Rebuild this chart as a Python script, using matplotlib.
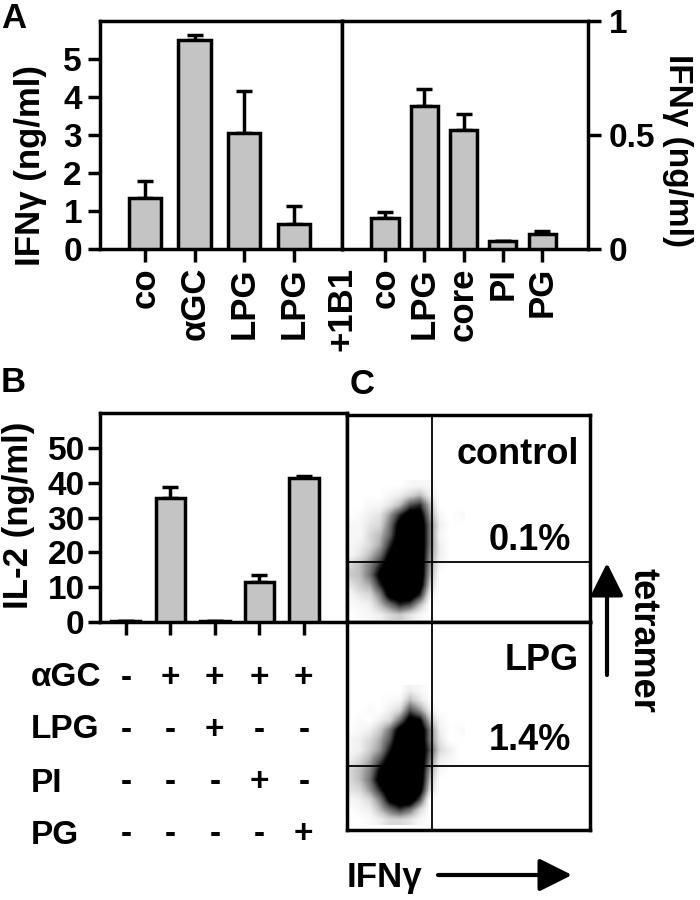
import matplotlib
matplotlib.use('Agg')
import matplotlib.pyplot as plt
import numpy as np
from matplotlib.transforms import blended_transform_factory

plt.rcParams['font.family'] = ['Liberation Sans', 'DejaVu Sans']
plt.rcParams['font.weight'] = 'bold'
plt.rcParams['axes.linewidth'] = 2.5

# ---------------- data ----------------
a_left_labels = ['co', 'αGC', 'LPG', 'LPG']
a_left_vals = [1.35, 5.5, 3.05, 0.65]
a_left_err = [0.43, 0.14, 1.12, 0.47]

a_right_labels = ['co', 'LPG', 'core', 'PI', 'PG']
a_right_vals = [0.137, 0.625, 0.524, 0.035, 0.066]
a_right_err = [0.027, 0.076, 0.07, 0.0, 0.013]

b_vals = [0.3, 35.6, 0.3, 11.5, 41.2]
b_err = [0.0, 3.2, 0.0, 2.0, 0.8]
b_rows = ['αGC', 'LPG', 'PI', 'PG']
b_signs = [['-', '+', '+', '+', '+'],
           ['-', '-', '+', '-', '-'],
           ['-', '-', '-', '+', '-'],
           ['-', '-', '-', '-', '+']]

c_titles = ['control', 'LPG']
c_percent = ['0.1%', '1.4%']

c_density_top = [
    [0, 0, 0, 0, 0, 0, 0.05, 0.05, 0.05, 0, 0, 0],
    [0, 0, 0, 0, 0.05, 0.1, 0.2, 0.3, 0.1, 0, 0, 0],
    [0, 0, 0.05, 0.05, 0.15, 0.3, 0.6, 0.7, 0.3, 0, 0, 0],
    [0, 0.03, 0.1, 0.15, 0.4, 0.7, 0.95, 0.9, 0.4, 0.05, 0, 0.03],
    [0.05, 0.05, 0.15, 0.2, 0.5, 0.9, 1, 1, 0.5, 0.1, 0, 0],
    [0.05, 0.05, 0.2, 0.3, 0.55, 0.95, 1, 1, 0.5, 0.05, 0, 0],
    [0.05, 0.1, 0.2, 0.35, 0.7, 1, 1, 1, 0.5, 0.1, 0, 0],
    [0.05, 0.15, 0.3, 0.5, 0.85, 1, 1, 1, 0.45, 0.1, 0, 0],
    [0.2, 0.3, 0.45, 0.7, 0.95, 1, 1, 1, 0.4, 0.05, 0, 0],
    [0.25, 0.3, 0.5, 0.85, 1, 1, 1, 1, 0.35, 0, 0, 0],
    [0.15, 0.25, 0.35, 0.7, 1, 1, 1, 0.95, 0.25, 0, 0, 0],
    [0.05, 0.15, 0.2, 0.45, 0.9, 1, 1, 0.7, 0.1, 0, 0, 0],
    [0.03, 0.05, 0.1, 0.3, 0.5, 0.7, 0.6, 0.3, 0, 0, 0, 0],
    [0, 0.03, 0.05, 0.1, 0.2, 0.25, 0.15, 0.05, 0, 0, 0, 0],
]
c_density_bottom = [
    [0, 0, 0, 0, 0, 0, 0.1, 0.05, 0, 0, 0, 0],
    [0, 0, 0, 0, 0.03, 0.05, 0.3, 0.15, 0, 0, 0, 0],
    [0, 0, 0.03, 0, 0.1, 0.2, 0.6, 0.4, 0.1, 0, 0, 0],
    [0, 0.03, 0, 0.1, 0.2, 0.5, 0.9, 0.8, 0.3, 0.05, 0, 0],
    [0, 0.05, 0.1, 0.25, 0.5, 0.9, 1, 1, 0.5, 0.1, 0, 0.03],
    [0.05, 0.1, 0.2, 0.35, 0.6, 1, 1, 1, 0.5, 0.15, 0, 0],
    [0.05, 0.1, 0.25, 0.4, 0.75, 1, 1, 1, 0.6, 0.2, 0.1, 0],
    [0.1, 0.2, 0.35, 0.6, 0.9, 1, 1, 1, 0.5, 0.1, 0.05, 0],
    [0.2, 0.3, 0.45, 0.8, 1, 1, 1, 1, 0.4, 0.05, 0, 0],
    [0.2, 0.3, 0.5, 0.9, 1, 1, 1, 1, 0.3, 0, 0, 0],
    [0.15, 0.2, 0.4, 0.7, 1, 1, 1, 0.9, 0.2, 0, 0, 0],
    [0.05, 0.1, 0.2, 0.45, 0.85, 1, 1, 0.6, 0, 0, 0, 0],
    [0, 0.05, 0.1, 0.3, 0.5, 0.65, 0.5, 0.2, 0, 0, 0, 0],
    [0, 0, 0.03, 0.1, 0.2, 0.2, 0.15, 0.05, 0, 0, 0, 0],
]

# ---------------- layout helpers ----------------
W, H = 700, 900
fig = plt.figure(figsize=(7, 9), dpi=100)


def ax_at(x0, y0, x1, y1):
    return fig.add_axes([x0 / W, 1 - y1 / H, (x1 - x0) / W, (y1 - y0) / H])


BAR = '#c4c4c4'
TICK_FS = 24
XLAB_FS = 25
LAB_FS = 25
TAB_FS = 24
C_FS = 26


def style_ticks(ax):
    ax.tick_params(direction='out', length=9, width=2.5, labelsize=TICK_FS, pad=4)


def bars(ax, xs, vals, errs, width):
    ax.bar(xs, vals, width=width, color=BAR, edgecolor='black', linewidth=2.5, zorder=3)
    ax.errorbar(xs, vals, yerr=[np.zeros(len(vals)), errs], fmt='none', ecolor='black',
                elinewidth=2.5, capsize=6, capthick=2.5, zorder=2)


# ---------------- Panel A ----------------
axL = ax_at(100, 21, 342, 249)
xl = np.arange(1, len(a_left_vals) + 1)
bars(axL, xl, a_left_vals, a_left_err, 0.65)
axL.set_xlim(0.095, 4.966)
axL.set_ylim(0, 6)
axL.set_yticks(range(0, 6))
axL.set_xticks(xl)
axL.set_xticklabels(a_left_labels, rotation=90)
style_ticks(axL)
axL.tick_params(axis='x', labelsize=XLAB_FS)
axL.annotate('+1B1', xy=(1.0, 0), xycoords='axes fraction', xytext=(0, -13),
             textcoords='offset points', rotation=90, ha='center', va='top',
             fontsize=XLAB_FS, fontweight='bold')

axR = ax_at(342, 21, 588, 249)
xr = np.arange(1, len(a_right_vals) + 1)
bars(axR, xr, a_right_vals, a_right_err, 0.69)
axR.set_xlim(-0.095, 6.17)
axR.set_ylim(0, 1)
axR.set_yticks([0, 0.5, 1])
axR.set_yticklabels(['0', '0.5', '1'])
axR.yaxis.tick_right()
axR.set_xticks(xr)
axR.set_xticklabels(a_right_labels, rotation=90)
style_ticks(axR)
axR.tick_params(axis='y', pad=6)
axR.tick_params(axis='x', labelsize=XLAB_FS)

fig.text(31 / W, 1 - 166 / H, 'IFNγ (ng/ml)', rotation=90, ha='center', va='center',
         fontsize=LAB_FS, fontweight='bold')
fig.text(678 / W, 1 - 150 / H, 'IFNγ (ng/ml)', rotation=270, ha='center', va='center',
         fontsize=24, fontweight='bold')

# ---------------- Panel B ----------------
axB = ax_at(100, 413, 347, 622)
xb = np.arange(len(b_vals))
bars(axB, xb, b_vals, b_err, 0.66)
axB.set_xlim(-0.58, 4.97)
axB.set_ylim(0, 60)
axB.set_yticks(range(0, 51, 10))
axB.set_xticks(xb)
axB.set_xticklabels([''] * len(xb))
style_ticks(axB)
axB.tick_params(axis='y', pad=2)
fig.text(19 / W, 1 - 515 / H, 'IL-2 (ng/ml)', rotation=90, ha='center', va='center',
         fontsize=LAB_FS, fontweight='bold')

tr = blended_transform_factory(axB.transData, fig.transFigure)
row_y = [678, 730, 783, 835]
for name, signs, yp in zip(b_rows, b_signs, row_y):
    fig.text(31 / W, 1 - yp / H, name, ha='left', va='center', fontsize=TAB_FS, fontweight='bold')
    for xi, s in zip(xb, signs):
        axB.text(xi, 1 - yp / H, s, transform=tr, ha='center', va='center',
                 fontsize=TAB_FS, fontweight='bold', clip_on=False)

# ---------------- Panel C ----------------
c_boxes = [(415, 622), (622, 830)]
c_dens = [c_density_top, c_density_bottom]
c_grid_top = [480, 685]
c_hline = [562, 766]
c_title_y = [455, 660]
c_pct_y = [540, 740]
for (y0, y1), dens, gy, hl, ty, py, title, pct in zip(c_boxes, c_dens, c_grid_top, c_hline,
                                                      c_title_y, c_pct_y, c_titles, c_percent):
    ax = ax_at(347, y0, 590, y1)
    ax.set_xlim(0, 1)
    ax.set_ylim(0, 1)
    ax.set_xticks([])
    ax.set_yticks([])
    hgt = y1 - y0
    arr = np.array(dens)
    ext = [(345 - 347) / 243, (345 + 10 * arr.shape[1] - 347) / 243,
           (y1 - (gy + 10 * arr.shape[0])) / hgt, (y1 - gy) / hgt]
    ax.imshow(arr, cmap='Greys', vmin=0, vmax=0.8, extent=ext, aspect='auto',
              interpolation='bilinear', origin='upper', zorder=1)
    ax.axvline((432 - 347) / 243, color='black', lw=1.3, zorder=2)
    ax.axhline((y1 - hl) / hgt, color='black', lw=1.3, zorder=2)
    ax.text((579 - 347) / 243, (y1 - ty) / hgt, title, ha='right', va='center',
            fontsize=C_FS, fontweight='bold')
    ax.text((571 - 347) / 243, (y1 - py) / hgt, pct, ha='right', va='center',
            fontsize=C_FS, fontweight='bold')

fig.text(643 / W, 1 - 640 / H, 'tetramer', rotation=270, ha='center', va='center',
         fontsize=C_FS, fontweight='bold')
fig.text(347 / W, 1 - 878 / H, 'IFNγ', ha='left', va='center', fontsize=25, fontweight='bold')

arrow = dict(arrowstyle='-|>,head_length=1.0,head_width=0.5', mutation_scale=20,
             lw=3, color='black', shrinkA=0, shrinkB=0)
fig.add_artist(plt.Annotation('', xy=(607, H - 563), xytext=(607, H - 675),
                              xycoords='figure pixels', textcoords='figure pixels',
                              arrowprops=arrow))
fig.add_artist(plt.Annotation('', xy=(572, H - 875), xytext=(438, H - 875),
                              xycoords='figure pixels', textcoords='figure pixels',
                              arrowprops=arrow))

# panel letters
fig.text(14 / W, 1 - 19 / H, 'A', ha='center', va='center', fontsize=25, fontweight='bold')
fig.text(13 / W, 1 - 383 / H, 'B', ha='center', va='center', fontsize=25, fontweight='bold')
fig.text(362 / W, 1 - 384 / H, 'C', ha='center', va='center', fontsize=25, fontweight='bold')

fig.savefig('out.png', dpi=100, facecolor='white')
